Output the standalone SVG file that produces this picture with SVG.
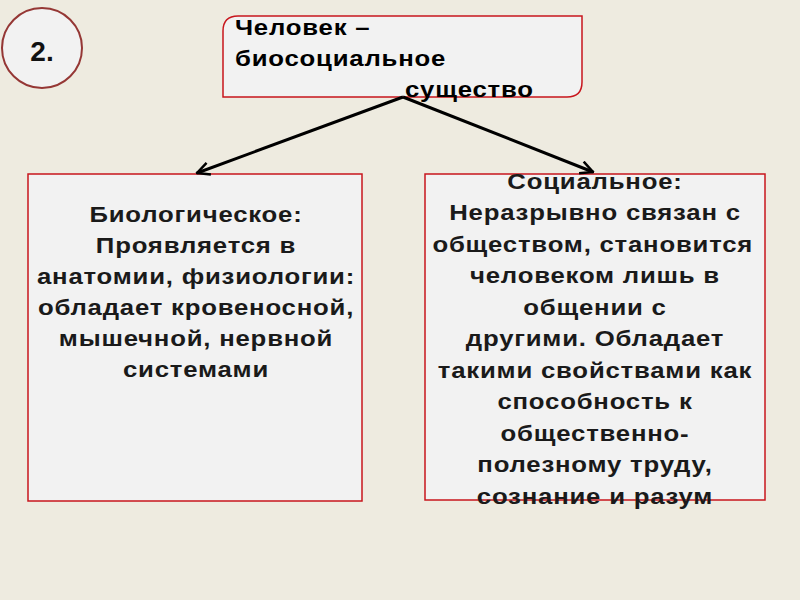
<svg xmlns="http://www.w3.org/2000/svg" width="800" height="600" viewBox="0 0 800 600">
<defs>
<style>
.box{fill:#f2f2f2;stroke:#c8161d;stroke-width:1.5}
.t{font-family:"Liberation Sans",Arial,sans-serif;font-weight:bold;font-size:23px;fill:#1a1a1a;letter-spacing:0.7px}
.c{text-anchor:middle}
.conn{stroke:#000;stroke-width:3;fill:none;marker-end:url(#ah)}
</style>
<marker id="ah" viewBox="0 0 12 12" refX="11" refY="6" markerWidth="5" markerHeight="5" orient="auto" markerUnits="strokeWidth">
<path d="M1,1 L11,6 L1,11" fill="none" stroke="#000" stroke-width="2"/>
</marker>
</defs>
<rect width="800" height="600" fill="#eeebe0"/>
<g id="badge">
<circle cx="42" cy="48" r="40" fill="#f2f2f2" stroke="#953735" stroke-width="2"/>
<text x="42" y="61" class="t c" style="font-size:28px;letter-spacing:0;fill:#111">2.</text>
</g>
<g id="root">
<path class="box" d="M238,16 H582 V82 Q582,97 567,97 H223 V31 Q223,16 238,16 Z"/>
<g transform="translate(235,0) scale(1.12,1)">
<text class="t" x="0" y="35" style="fill:#000">Человек –</text>
<text class="t" x="0" y="66" style="fill:#000">биосоциальное</text>
<text class="t" x="151.8" y="97" style="fill:#000">существо</text>
</g>
</g>
<g id="bio">
<rect class="box" x="28" y="174" width="334" height="327"/>
<g transform="translate(196,0) scale(1.12,1)">
<text class="t c" x="0" y="222">Биологическое:</text>
<text class="t c" x="0" y="253">Проявляется в</text>
<text class="t c" x="0" y="284">анатомии, физиологии:</text>
<text class="t c" x="0" y="315">обладает кровеносной,</text>
<text class="t c" x="0" y="346">мышечной, нервной</text>
<text class="t c" x="0" y="377">системами</text>
</g>
</g>
<g id="social">
<rect class="box" x="425" y="174" width="340" height="326"/>
<g transform="translate(595,0) scale(1.12,1)">
<text class="t c" x="0" y="189">Социальное:</text>
<text class="t c" x="0" y="220.5">Неразрывно связан с</text>
<text class="t c" x="-2" y="252">обществом, становится</text>
<text class="t c" x="0" y="283.5">человеком лишь в</text>
<text class="t c" x="0" y="315">общении с</text>
<text class="t c" x="0" y="346.5">другими. Обладает</text>
<text class="t c" x="0" y="378">такими свойствами как</text>
<text class="t c" x="0" y="409.5">способность к</text>
<text class="t c" x="0" y="441">общественно-</text>
<text class="t c" x="0" y="472.5">полезному труду,</text>
<text class="t c" x="0" y="504">сознание и разум</text>
</g>
</g>
<g id="connectors">
<line class="conn" x1="403" y1="97" x2="197" y2="173"/>
<line class="conn" x1="403" y1="97" x2="593" y2="172"/>
</g>
</svg>
